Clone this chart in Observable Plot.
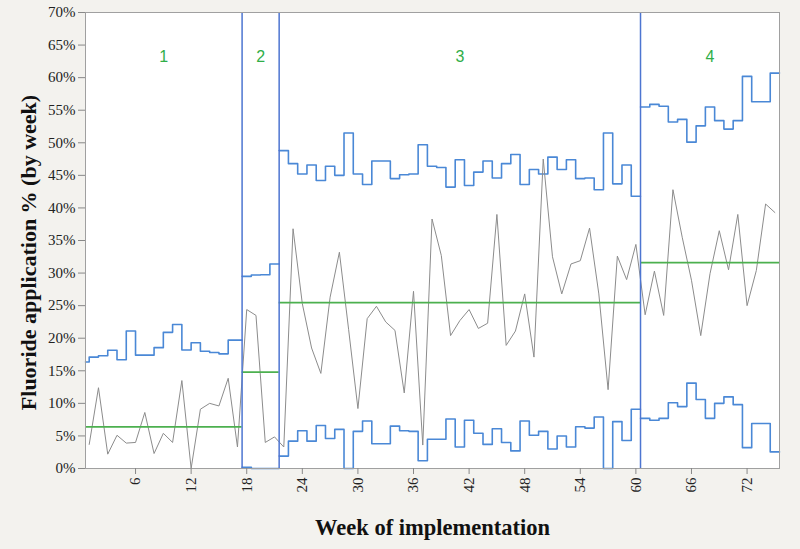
<!DOCTYPE html>
<html><head><meta charset="utf-8">
<script src="https://cdn.jsdelivr.net/npm/d3@7"></script>
<script src="https://cdn.jsdelivr.net/npm/@observablehq/plot@0.6"></script>
<style>html,body{margin:0;padding:0;background:#f3f2ee;} #chart svg{display:block}</style>
</head><body><div id="chart"></div><script>
// ---- data ----
const weeks = d3.range(1, 76);
const rate = [3.7, 12.4, 2.2, 5.1, 3.9, 4.0, 8.6, 2.3, 5.4, 4.0, 13.5, 0, 9.1, 10.0, 9.6, 13.85, 3.3,
  24.4, 23.5, 4.0, 4.85,
  3.3, 36.8, 25.3, 18.5, 14.6, 26.3, 33.2, 21.3, 9.2, 23.0, 24.9, 22.5, 21.2, 11.6, 27.2, 3.6, 38.3, 32.7, 20.4, 22.7,
  24.4, 21.5, 22.3, 39.0, 18.9, 21.1, 26.8, 17.1, 47.5, 32.5, 26.8, 31.4, 31.9, 36.9, 26.8, 12.1, 32.6, 29.0, 34.4,
  23.6, 30.3, 23.5, 42.8, 35.5, 28.9, 20.4, 29.9, 36.5, 30.5, 39.0, 25.0, 30.4, 40.6, 39.3];
const ucl = [16.35, 17.1, 17.3, 18.15, 16.7, 21.1, 17.4, 17.4, 18.55, 20.9, 22.1, 18.2, 19.3, 18.0, 17.8, 17.6, 19.7,
  29.5, 29.7, 29.75, 31.4,
  48.8, 46.8, 45.2, 46.6, 44.2, 46.4, 45.0, 51.5, 45.2, 43.6, 47.2, 47.2, 44.5, 45.1, 45.2, 49.7, 46.4, 46.2, 43.2, 47.4,
  43.45, 45.5, 47.2, 44.6, 46.8, 48.2, 43.6, 45.9, 45.2, 47.8, 45.9, 47.4, 44.5, 44.6, 42.8, 51.5, 43.7, 46.6, 41.8,
  55.5, 55.9, 55.6, 53.2, 53.6, 50.1, 52.6, 55.5, 53.4, 52.1, 53.4, 60.2, 56.3, 56.3, 60.7];
const lcl = [null, null, null, null, null, null, null, null, null, null, null, null, null, null, null, null, null,
  0.2, 0, 0, 0,
  1.9, 4.2, 5.8, 4.2, 6.6, 4.6, 6.0, 0, 5.7, 7.3, 3.8, 3.8, 6.5, 5.8, 5.7, 1.2, 4.5, 4.5, 7.6, 3.3,
  7.4, 5.4, 3.7, 6.1, 4.0, 2.7, 7.3, 5.1, 5.7, 3.0, 5.0, 3.3, 6.4, 6.2, 7.9, 0, 7.2, 4.3, 9.1,
  7.7, 7.4, 7.7, 10.1, 9.5, 13.1, 10.6, 7.7, 10.0, 11.0, 9.8, 3.2, 6.9, 6.9, 2.55];
const phaseLabels = ["1", "2", "3", "4"];
const phaseStart = [0.6, 17.5, 21.5, 60.5];
const phaseEnd = [17.5, 21.5, 60.5, 75.5];
const phaseFirstWeek = [1, 18, 22, 61];
const phaseLastWeek = [17, 21, 60, 75];
const centerLine = [6.4, 14.8, 25.45, 31.6];
const xTicks = [6, 12, 18, 24, 30, 36, 42, 48, 54, 60, 66, 72];
const yTicks = [0, 5, 10, 15, 20, 25, 30, 35, 40, 45, 50, 55, 60, 65, 70];
const xTitle = "Week of implementation";
const yTitle = "Fluoride application % (by week)";

// ---- step limits built from per-week values ----
const limitPts = [];
phaseLabels.forEach((p, i) => {
  const shift = i === 0 ? -0.5 : 0;
  [["U", ucl], ["L", lcl]].forEach(([name, arr]) => {
    for (let w = phaseFirstWeek[i]; w <= phaseLastWeek[i]; w++) {
      const v = arr[w - 1];
      if (v == null) continue;
      let a = w - 0.5 + shift, b = w + 0.5 + shift;
      if (w === phaseFirstWeek[i]) a = phaseStart[i];
      if (w === phaseLastWeek[i]) b = phaseEnd[i];
      limitPts.push({key: p + name, x: a, y: v}, {key: p + name, x: b, y: v});
    }
  });
});

const serif = "'Liberation Serif', 'Times New Roman', serif";
const chart = Plot.plot({
  width: 800, height: 549,
  marginLeft: 85, marginRight: 21, marginTop: 12, marginBottom: 81,
  style: {background: "#f3f2ee", fontFamily: serif, fontSize: "15px", color: "#222"},
  x: {domain: [0.6, 75.5]},
  y: {domain: [0, 70]},
  marks: [
    Plot.frame({fill: "white", stroke: null}),
    Plot.line(limitPts, {x: "x", y: "y", z: "key", stroke: "#4a88d6", strokeWidth: 1.6}),
    Plot.line(weeks, {x: d => d, y: (d, i) => rate[i], stroke: "#8c8c8c", strokeWidth: 1}),
    Plot.ruleY(centerLine, {y: d => d, x1: (d, i) => phaseStart[i], x2: (d, i) => phaseEnd[i], stroke: "#4cb04f", strokeWidth: 1.8}),
    Plot.ruleX(phaseStart.slice(1), {stroke: "#4d75d1", strokeWidth: 1.5}),
    Plot.frame({stroke: "#a0a0a0"}),
    Plot.axisY({ticks: yTicks, tickFormat: d => d + "%", tickSize: 7, tickPadding: 3, label: null, stroke: "#888", fill: "#222"}),
    Plot.axisX({ticks: xTicks, tickRotate: -90, tickSize: 6, tickPadding: 3, label: null, stroke: "#888", fill: "#222"}),
    Plot.text(phaseLabels, {x: (d, i) => (phaseStart[i] + phaseEnd[i]) / 2, frameAnchor: "top", dy: 38, text: d => d,
      fill: "#2fae48", fontFamily: "'Liberation Sans', Arial, sans-serif", fontSize: 16}),
    Plot.text([xTitle], {frameAnchor: "bottom", lineAnchor: "middle", dy: 59, text: d => d, fontSize: 22.5, fontWeight: "bold", fill: "#111"}),
    Plot.text([yTitle], {frameAnchor: "left", textAnchor: "middle", lineAnchor: "middle", rotate: -90, dx: -57, dy: 12, text: d => d, fontSize: 22, fontWeight: "bold", fill: "#111"})
  ]
});
document.getElementById("chart").append(chart);
</script></body></html>
